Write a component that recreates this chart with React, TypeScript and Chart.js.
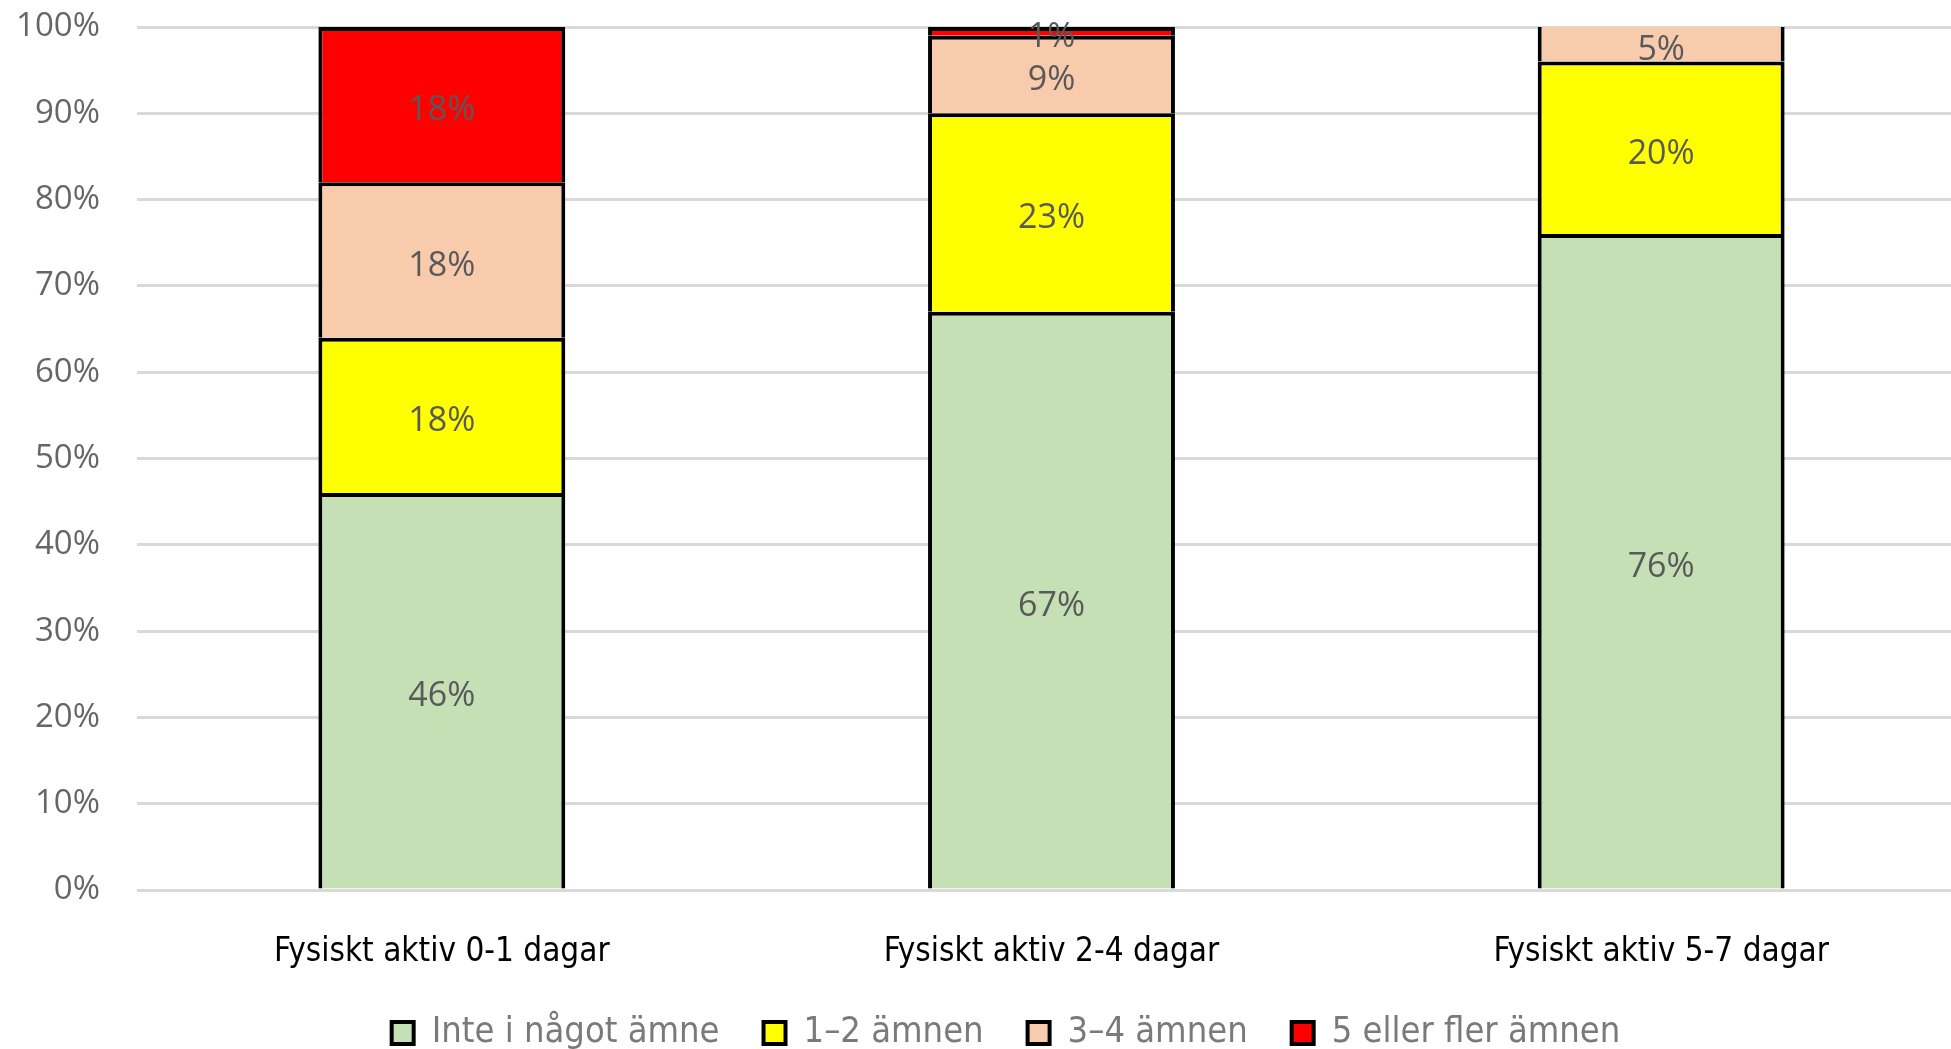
import React, { useEffect, useRef } from "react";
import { Chart, registerables } from "chart.js";

Chart.register(...registerables);

const categories = ["Fysiskt aktiv 0-1 dagar", "Fysiskt aktiv 2-4 dagar", "Fysiskt aktiv 5-7 dagar"];
const seriesNames = ["Inte i något ämne", "1–2 ämnen", "3–4 ämnen", "5 eller fler ämnen"];
const inteValues = [46, 67, 76];
const ettTvaValues = [18, 23, 20];
const treFyraValues = [18, 9, 5];
const femValues = [18, 1, 0];
const seriesColors = ["#C5E0B4", "#FFFF00", "#F8CBAD", "#FF0000"];
const yTickValues = [0, 10, 20, 30, 40, 50, 60, 70, 80, 90, 100];

const W = 2010;
const H = 1061;
const condensed = "'Liberation Sans Narrow', 'DejaVu Sans Condensed', 'Roboto', sans-serif";

const segLabels = {
  id: "segLabels",
  afterDatasetsDraw(chart: any) {
    const { ctx, chartArea } = chart;
    ctx.save();
    ctx.font = "34px 'Open Sans'";
    ctx.fillStyle = "#595959";
    ctx.textAlign = "center";
    ctx.textBaseline = "middle";
    chart.data.datasets.forEach((ds: any, i: number) => {
      const meta = chart.getDatasetMeta(i);
      meta.data.forEach((el: any, j: number) => {
        const v = ds.data[j];
        if (!v) return;
        const { x, y, base } = el.getProps(["x", "y", "base"], true);
        const top = Math.max(Math.min(y, base), chartArea.top);
        const bottom = Math.min(Math.max(y, base), chartArea.bottom);
        ctx.fillText(v + "%", x, (top + bottom) / 2 + 6);
      });
    });
    ctx.restore();
  },
};

export default function App() {
  const ref = useRef<HTMLCanvasElement>(null);
  useEffect(() => {
    document.body.style.margin = "0";
    document.body.style.overflow = "hidden";
    const values = [inteValues, ettTvaValues, treFyraValues, femValues];
    const chart = new Chart(ref.current!, {
      type: "bar",
      data: {
        labels: categories,
        datasets: seriesNames.map((name, i) => ({
          label: name,
          data: values[i],
          backgroundColor: seriesColors[i],
          borderColor: "#000000",
          borderWidth: { top: 4, left: 4, right: 4, bottom: 0 },
          borderSkipped: false,
          barPercentage: 0.405,
          categoryPercentage: 1,
        })),
      },
      options: {
        animation: false,
        responsive: false,
        devicePixelRatio: 1,
        layout: { padding: { top: 27, right: 44, left: 46, bottom: 0 } },
        plugins: {
          tooltip: { enabled: false },
          legend: {
            position: "bottom",
            labels: {
              boxWidth: 22,
              boxHeight: 22,
              padding: 44,
              color: "#7a7a7a",
              font: { family: condensed, size: 36 },
              generateLabels: (c: any) =>
                c.data.datasets.map((ds: any, i: number) => ({
                  text: ds.label,
                  fillStyle: ds.backgroundColor,
                  strokeStyle: "#000000",
                  lineWidth: 4,
                  hidden: false,
                  datasetIndex: i,
                  fontColor: "#7a7a7a",
                })),
            },
          },
        },
        scales: {
          x: {
            stacked: true,
            grid: { display: false, drawTicks: false },
            border: { display: false },
            ticks: { color: "#000000", padding: 43, font: { family: condensed, size: 33 } },
            afterFit: (s: any) => {
              s.height = 81;
            },
          },
          y: {
            stacked: true,
            min: 0,
            max: 100,
            afterBuildTicks: (s: any) => {
              s.ticks = yTickValues.map((v) => ({ value: v }));
            },
            grid: { color: "#d9d9d9", lineWidth: 3, drawTicks: false },
            border: { display: false },
            ticks: {
              color: "#666666",
              padding: 37,
              font: { family: "'Open Sans'", size: 33 },
              callback: (v: any) => v + "%",
            },
            afterFit: (s: any) => {
              s.width = 91;
              s.paddingTop = 0;
              s.paddingBottom = 0;
              s._computeLabelArea = () => undefined;
            },
          },
        },
      },
      plugins: [segLabels],
    });
    return () => chart.destroy();
  }, []);
  return (
    <div style={{ width: W, height: H, position: "relative" }}>
      <canvas ref={ref} width={W} height={H} style={{ width: W, height: H, display: "block" }} />
    </div>
  );
}
